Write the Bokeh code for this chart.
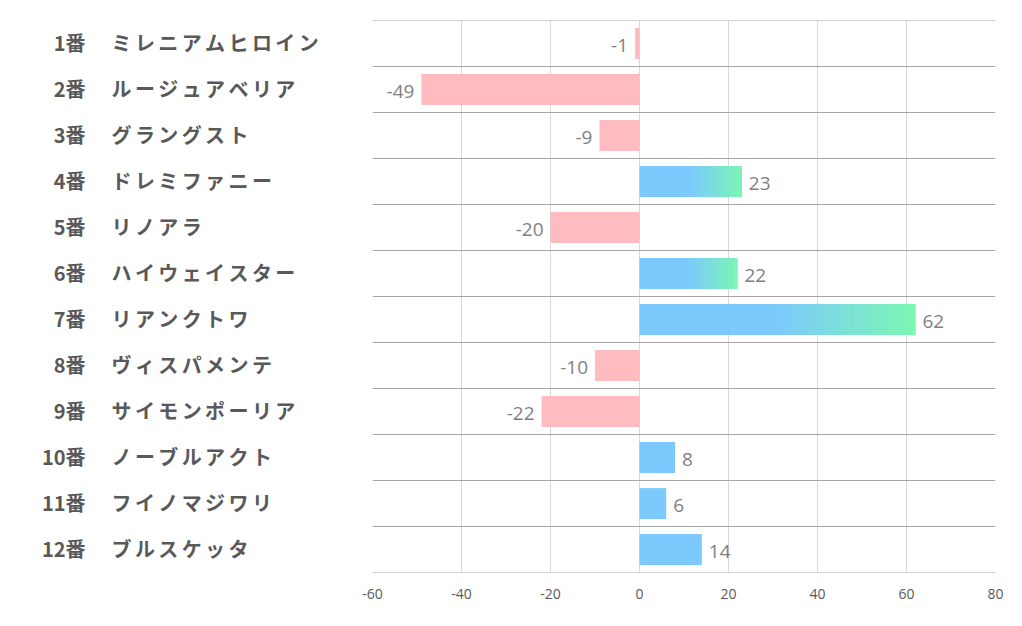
from bokeh.plotting import figure
from bokeh.layouts import row
from bokeh.models import FixedTicker, ColumnDataSource, Span, Range1d
from bokeh.core.properties import value
from bokeh.embed import file_html
from bokeh.resources import INLINE

numbers = ["1番", "2番", "3番", "4番", "5番", "6番", "7番", "8番", "9番", "10番", "11番", "12番"]
names = ["ミレニアムヒロイン", "ルージュアベリア", "グラングスト", "ドレミファニー", "リノアラ",
         "ハイウェイスター", "リアンクトワ", "ヴィスパメンテ", "サイモンポーリア", "ノーブルアクト",
         "フイノマジワリ", "ブルスケッタ"]
values = [-1, -49, -9, 23, -20, 22, 62, -10, -22, 8, 6, 14]
ticks = [-60, -40, -20, 0, 20, 40, 60, 80]
tick_labels = ["-60", "-40", "-20", "0", "20", "40", "60", "80"]

PINK = "#ffbcc0"
BLUE = (124, 202, 253)
GREEN = (124, 248, 176)
BLUE_HEX = "#7ccafd"

n = len(values)
ys = [n - i - 0.5 for i in range(n)]
yr = Range1d(0, n)

LABW = 342
PAD = 30
# label panel
lab = figure(width=LABW, height=618, x_range=(0, LABW), y_range=yr,
             output_backend="svg", toolbar_location=None,
             min_border_left=0, min_border_right=0, min_border_top=20, min_border_bottom=46)
lab.axis.visible = False
lab.grid.visible = False
lab.outline_line_color = None
ADV = 23.4
lab.text(x=[85] * n, y=ys, text=numbers, text_align="right", text_baseline="middle",
         y_offset=-1, text_font=value("Noto Sans CJK JP"), text_font_style="bold",
         text_font_size="20px", text_color="#595959")
cx, cy, ct = [], [], []
for y, nm in zip(ys, names):
    for k, ch in enumerate(nm):
        cx.append(111 + ADV * k); cy.append(y); ct.append(ch)
lab.text(x=cx, y=cy, text=ct, text_align="left", text_baseline="middle", y_offset=-1,
         text_font=value("Noto Sans CJK JP"), text_font_style="bold", text_font_size="20px",
         text_color="#595959")

p = figure(width=1014 - LABW, height=618, x_range=(-60, 80), y_range=yr,
           output_backend="svg", toolbar_location=None,
           min_border_left=PAD, min_border_top=20, min_border_right=19, min_border_bottom=46)
p.outline_line_color = None
p.background_fill_color = "white"
p.border_fill_color = "white"

p.yaxis.visible = False
p.ygrid.grid_line_color = None
p.xgrid.ticker = FixedTicker(ticks=ticks)
p.xgrid.grid_line_color = "#d9d9d9"
p.xgrid.grid_line_width = 1
p.xaxis.ticker = FixedTicker(ticks=ticks)
p.xaxis.major_label_overrides = {t: l for t, l in zip(ticks, tick_labels)}
p.xaxis.axis_line_color = None
p.xaxis.major_tick_line_color = None
p.xaxis.minor_tick_line_color = None
p.xaxis.major_label_text_font = "Open Sans"
p.xaxis.major_label_text_font_size = "14px"
p.xaxis.major_label_text_color = "#595959"
p.xaxis.major_label_standoff = 10

for k in range(n + 1):
    p.add_layout(Span(location=k, dimension="width", line_color="#a6a6a6", line_width=1))

bh = 0.67
neg = [(y, v) for y, v in zip(ys, values) if v < 0]
p.hbar(y=[a for a, _ in neg], left=[b for _, b in neg], right=0, height=bh,
       fill_color=PINK, line_color=None)
pos = [(y, v) for y, v in zip(ys, values) if v > 0]
p.hbar(y=[a for a, _ in pos], left=0, right=[b for _, b in pos], height=bh,
       fill_color=BLUE_HEX, line_color=None)

gy, gl, gr, gc = [], [], [], []
N = 40
for y, v in pos:
    if v > 20:
        start = v / 2
        for j in range(N):
            a = start + (v - start) * j / N
            b = start + (v - start) * (j + 1) / N + 0.05
            t = (j + 0.5) / N
            c = tuple(int(round(BLUE[k] + (GREEN[k] - BLUE[k]) * t)) for k in range(3))
            gy.append(y); gl.append(a); gr.append(min(b, v)); gc.append("#%02x%02x%02x" % c)
p.hbar(y=gy, left=gl, right=gr, height=bh, fill_color=gc, line_color=None)

neg_src = ColumnDataSource(dict(x=[b for _, b in neg], y=[a for a, _ in neg],
                                t=[str(b) for _, b in neg]))
p.text(x="x", y="y", text="t", source=neg_src, text_align="right", text_baseline="middle",
       x_offset=-7, y_offset=2, text_font=value("Open Sans"), text_font_size="19px",
       text_color="#7f7f7f")
pos_src = ColumnDataSource(dict(x=[b for _, b in pos], y=[a for a, _ in pos],
                                t=[str(b) for _, b in pos]))
p.text(x="x", y="y", text="t", source=pos_src, text_align="left", text_baseline="middle",
       x_offset=7, y_offset=2, text_font=value("Open Sans"), text_font_size="19px",
       text_color="#7f7f7f")

layout = row(lab, p)
open("out.html", "w").write(file_html(layout, INLINE))
